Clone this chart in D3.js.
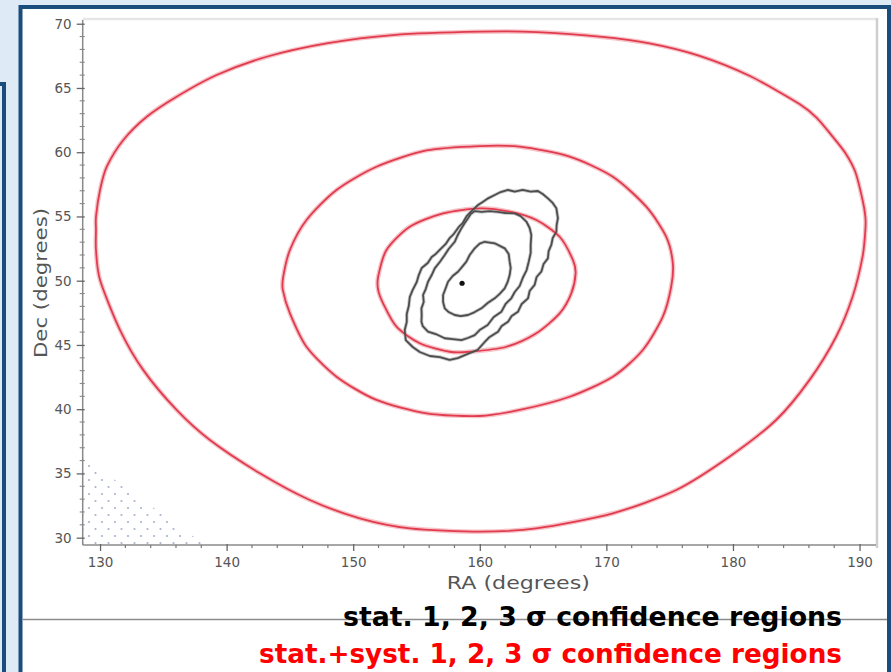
<!DOCTYPE html>
<html>
<head>
<meta charset="utf-8">
<script src="https://cdn.jsdelivr.net/npm/d3@7/dist/d3.min.js"></script>
<style>
  html, body { margin: 0; padding: 0; background: #deebf7; overflow: hidden; }
  svg { display: block; }
</style>
</head>
<body>
<svg id="chart" width="891" height="672"></svg>
<script>
// ---- axis limits and tick labels (degrees) ----
const raLimits  = [128.63, 191.3];
const decLimits = [29.43, 70.29];
const raTicks   = [130, 140, 150, 160, 170, 180, 190];
const decTicks  = [30, 35, 40, 45, 50, 55, 60, 65, 70];
const raMinorStep  = 2;
const decMinorStep = 1;

// ---- best-fit arrival direction [RA, Dec] ----
const bestFit = [158.6, 49.8];

// ---- statistical-only confidence contours [RA, Dec] ----
const stat1Sigma = [
  [160.39,53.03],[161.18,52.91],[161.97,52.52],[162.28,52.08],[162.36,51.48],[162.44,50.99],
  [162.36,50.44],[162.20,49.90],[161.97,49.41],[161.57,48.97],[161.18,48.63],[160.62,48.26],
  [160.13,47.85],[159.60,47.56],[159.07,47.33],[158.49,47.25],[158.02,47.33],[157.54,47.56],
  [157.23,47.85],[157.10,48.34],[157.10,48.89],[157.31,49.43],[157.49,49.92],[157.86,50.37],
  [158.28,50.70],[158.65,51.14],[158.94,51.48],[159.20,52.00],[159.60,52.52],[159.99,52.89]
];
const stat2Sigma = [
  [159.60,55.42],[160.15,55.35],[160.78,55.42],[161.41,55.35],[162.04,55.27],[162.76,55.24],
  [163.23,55.03],[163.70,54.57],[163.94,54.10],[164.07,53.56],[164.02,52.78],[164.02,52.16],
  [163.86,51.46],[163.70,50.83],[163.39,50.21],[163.15,49.59],[162.76,49.12],[162.49,48.63],
  [162.04,48.19],[161.71,47.59],[161.10,47.17],[160.62,46.55],[159.99,46.16],[159.60,45.77],
  [159.05,45.54],[158.55,45.38],[157.86,45.46],[157.23,45.52],[156.52,45.85],[155.91,46.03],
  [155.49,46.47],[155.39,46.81],[155.41,47.33],[155.39,47.85],[155.57,48.34],[155.52,48.89],
  [155.73,49.35],[155.91,49.92],[156.20,50.44],[156.44,50.96],[156.84,51.46],[157.23,52.00],
  [157.54,52.47],[158.02,53.03],[158.26,53.56],[158.55,54.08],[158.81,54.49],[159.07,54.86],
  [159.28,55.19]
];
const stat3Sigma = [
  [159.86,55.89],[160.23,56.12],[160.65,56.41],[161.18,56.67],[161.65,56.90],[162.23,57.06],
  [162.76,56.94],[163.39,57.06],[164.02,56.94],[164.59,56.98],[164.97,56.75],[165.38,56.41],
  [165.76,56.05],[166.05,55.63],[166.17,54.86],[166.07,54.33],[166.05,53.81],[165.76,53.32],
  [165.65,52.78],[165.44,52.31],[165.38,51.74],[165.04,51.30],[164.86,50.70],[164.49,50.29],
  [164.33,49.67],[163.94,49.20],[163.81,48.63],[163.31,48.19],[163.02,47.59],[162.52,47.25],
  [162.23,46.81],[161.73,46.47],[161.44,46.03],[160.78,45.62],[160.39,45.23],[159.83,44.61],
  [159.05,44.30],[158.26,43.98],[157.62,43.83],[156.84,44.06],[156.05,44.14],[155.26,44.45],
  [154.70,44.84],[154.15,45.38],[154.07,46.16],[154.23,46.79],[154.23,47.41],[154.39,48.03],
  [154.47,48.73],[154.70,49.28],[155.02,49.90],[155.18,50.44],[155.41,50.99],[155.89,51.38],
  [156.20,51.84],[156.52,52.08],[156.91,52.47],[157.31,52.86],[157.62,53.32],[157.94,53.63],
  [158.34,54.18],[158.65,54.49],[158.97,55.03],[159.28,55.35]
];

// ---- statistical + systematic confidence contours [RA, Dec] ----
const total1Sigma = [
  [151.97,50.31],[152.63,52.39],[154.47,54.20],[157.10,55.24],[159.99,55.63],[162.36,55.37],
  [164.47,54.72],[166.31,53.42],[167.36,51.61],[167.57,50.58],[167.23,49.02],[166.31,47.46],
  [164.47,45.91],[162.10,44.86],[159.20,44.47],[157.62,44.47],[155.26,45.13],[153.42,46.42],
  [152.36,48.24],[151.97,49.28]
];
const total2Sigma = [
  [144.47,50.31],[145.00,52.39],[146.31,54.72],[148.68,57.06],[151.84,58.87],[155.79,60.14],
  [159.99,60.48],[163.15,60.43],[167.10,59.65],[170.51,58.09],[173.15,55.76],[174.73,53.42],
  [175.25,51.35],[175.12,49.53],[174.46,47.20],[172.88,44.61],[170.51,42.53],[167.10,40.97],
  [163.15,39.94],[159.99,39.47],[155.79,39.68],[151.84,40.72],[148.68,42.53],[146.31,44.86],
  [145.00,47.46],[144.44,49.28]
];
const total3Sigma = [
  [129.68,52.39],[129.68,53.95],[129.68,54.98],[130.00,57.06],[130.53,58.87],[131.84,60.95],
  [133.69,62.76],[136.05,64.32],[139.21,66.01],[143.16,67.43],[147.89,68.47],[153.15,69.12],
  [159.99,69.38],[164.50,69.35],[169.46,68.99],[173.41,68.47],[177.36,67.50],[181.30,65.95],
  [185.26,63.75],[186.67,62.62],[187.88,61.21],[188.88,59.94],[189.67,58.46],[190.24,56.28],
  [190.46,54.98],[190.46,53.95],
  [190.24,51.87],[189.45,48.75],[188.15,45.64],[186.04,42.26],[183.41,39.16],[179.72,36.30],
  [175.52,33.71],[170.51,31.90],[164.47,30.73],[159.99,30.47],[154.47,30.73],[150.52,31.51],
  [146.57,32.93],[142.63,35.01],[138.68,37.60],[136.05,39.94],[133.42,43.04],[131.58,46.16],
  [130.00,50.05]
];

// ---- sky region outside the field of view [RA, Dec] ----
const hiddenRegion = [[128.63, 36.3], [128.63, 29.43], [138.3, 29.43]];

// ---- captions ----
const axisLabels = { x: "RA (degrees)", y: "Dec (degrees)" };
const legendLabels = ["stat. 1, 2, 3 \u03c3 confidence regions",
                      "stat.+syst. 1, 2, 3 \u03c3 confidence regions"];
const legendColors = ["#000000", "#ff0000"];

// ================= drawing =================
const W = 891, H = 672;
const svg = d3.select("#chart");
const plot = { left: 82.7, right: 876, top: 20, bottom: 545 };

const x = d3.scaleLinear().domain(raLimits).range([plot.left, plot.right]);
const y = d3.scaleLinear().domain(decLimits).range([plot.bottom, plot.top]);

// slide background and panel frames
svg.append("rect").attr("width", W).attr("height", H).attr("fill", "#deebf7");
svg.append("rect").attr("x", -20).attr("y", 84).attr("width", 24).attr("height", 700)
  .attr("fill", "#deebf7").attr("stroke", "#1a4c7c").attr("stroke-width", 4);
svg.append("rect").attr("x", 20.5).attr("y", 7).attr("width", 868.5).attr("height", 700)
  .attr("fill", "#ffffff").attr("stroke", "#1a4c7c").attr("stroke-width", 4);

// frame of the figure
svg.append("line").attr("x1", plot.left).attr("x2", plot.right + 1)
  .attr("y1", plot.top - 1).attr("y2", plot.top - 1)
  .attr("stroke", "#e6e6e6").attr("stroke-width", 2.5);
svg.append("line").attr("x1", plot.right + 1).attr("x2", plot.right + 1)
  .attr("y1", plot.top - 2).attr("y2", plot.bottom + 3)
  .attr("stroke", "#cfcfcf").attr("stroke-width", 2.5);

// dotted sky patch
const defs = svg.append("defs");
const pat = defs.append("pattern").attr("id", "dots")
  .attr("patternUnits", "userSpaceOnUse").attr("width", 13).attr("height", 14)
  .attr("x", 86).attr("y", 463);
pat.append("circle").attr("cx", 3).attr("cy", 3).attr("r", 1.1).attr("fill", "#8e98bb");
pat.append("circle").attr("cx", 9.5).attr("cy", 10).attr("r", 1.1).attr("fill", "#8e98bb");
svg.append("path")
  .attr("d", d3.line().x(d => x(d[0])).y(d => y(d[1]))(hiddenRegion) + "Z")
  .attr("fill", "url(#dots)").attr("opacity", 0.75);

// contours
const smooth = d3.line().x(d => x(d[0])).y(d => y(d[1])).curve(d3.curveCardinalClosed.tension(0.2));
const jagged = d3.line().x(d => x(d[0])).y(d => y(d[1])).curve(d3.curveLinearClosed);

const g = svg.append("g").attr("fill", "none").attr("stroke-linejoin", "round");
[total1Sigma, total2Sigma, total3Sigma].forEach(c => {
  g.append("path").attr("d", smooth(c)).attr("stroke", "#f7c2c8").attr("stroke-width", 4.5);
});
[stat1Sigma, stat2Sigma, stat3Sigma].forEach(c => {
  g.append("path").attr("d", jagged(c)).attr("stroke", "#c9c9c9").attr("stroke-width", 3.5);
});
[total1Sigma, total2Sigma, total3Sigma].forEach(c => {
  g.append("path").attr("d", smooth(c)).attr("stroke", "#e03c4e").attr("stroke-width", 1.8);
});
[stat1Sigma, stat2Sigma, stat3Sigma].forEach(c => {
  g.append("path").attr("d", jagged(c)).attr("stroke", "#4d4d4d").attr("stroke-width", 1.8);
});

svg.append("circle").attr("cx", x(bestFit[0])).attr("cy", y(bestFit[1])).attr("r", 2.6)
  .attr("fill", "#111");

// axes
const axisColor = "#8a8a8a";
const tickFont = "'DejaVu Sans', sans-serif";

const xMinor = d3.range(raTicks[0], raLimits[1], raMinorStep).filter(v => !raTicks.includes(v));
const yMinor = d3.range(decTicks[0], decLimits[1], decMinorStep).filter(v => !decTicks.includes(v));

const xAxis = svg.append("g").attr("transform", `translate(0,${plot.bottom})`)
  .call(d3.axisBottom(x).tickValues(raTicks).tickSize(6).tickPadding(6).tickFormat(d3.format("d")));
xAxis.select(".domain").attr("stroke", axisColor).attr("stroke-width", 1.5)
  .attr("d", `M${plot.left},0H${plot.right}`);
xAxis.selectAll(".tick line").attr("stroke", "#666").attr("stroke-width", 1.3).attr("y1", -1);
xAxis.selectAll(".tick text").attr("font-family", tickFont).attr("font-size", 13.5).attr("fill", "#555");

svg.append("g").attr("transform", `translate(0,${plot.bottom})`)
  .selectAll("line").data(xMinor).join("line")
  .attr("x1", d => x(d)).attr("x2", d => x(d)).attr("y1", 0).attr("y2", 3)
  .attr("stroke", "#777").attr("stroke-width", 1.2);

const yAxis = svg.append("g").attr("transform", `translate(${plot.left},0)`)
  .call(d3.axisLeft(y).tickValues(decTicks).tickSize(6).tickPadding(5).tickFormat(d3.format("d")));
yAxis.select(".domain").attr("stroke", axisColor).attr("stroke-width", 1.5)
  .attr("d", `M0,${plot.top}V${plot.bottom}`);
yAxis.selectAll(".tick line").attr("stroke", "#666").attr("stroke-width", 1.3).attr("x1", 2);
yAxis.selectAll(".tick text").attr("font-family", tickFont).attr("font-size", 13.5).attr("fill", "#555");

svg.append("g").attr("transform", `translate(${plot.left},0)`)
  .selectAll("line").data(yMinor).join("line")
  .attr("x1", -3).attr("x2", 2).attr("y1", d => y(d)).attr("y2", d => y(d))
  .attr("stroke", "#888").attr("stroke-width", 1.1);

// axis titles
svg.append("text").attr("x", (plot.left + plot.right) / 2 + 39).attr("y", 589)
  .attr("text-anchor", "middle").attr("font-family", tickFont).attr("font-size", 18)
  .attr("fill", "#555").attr("textLength", 143).attr("lengthAdjust", "spacingAndGlyphs")
  .text(axisLabels.x);
svg.append("text").attr("transform", `translate(47,283) rotate(-90)`)
  .attr("text-anchor", "middle").attr("font-family", tickFont).attr("font-size", 18)
  .attr("fill", "#555").attr("textLength", 150).attr("lengthAdjust", "spacingAndGlyphs")
  .text(axisLabels.y);

// divider line behind the captions
svg.append("line").attr("x1", 22.5).attr("x2", 887).attr("y1", 619.5).attr("y2", 619.5)
  .attr("stroke", "#8c8c8c").attr("stroke-width", 1.5);

// legend captions
const legendFont = "'DejaVu Sans', sans-serif";
const legendY = [626, 663];
const legendWidth = [499, 583];
legendLabels.forEach((t, i) => {
  svg.append("text").attr("x", 842).attr("y", legendY[i]).attr("text-anchor", "end")
    .attr("font-family", legendFont).attr("font-weight", "bold").attr("font-size", 26.5)
    .attr("fill", legendColors[i])
    .attr("textLength", legendWidth[i]).attr("lengthAdjust", "spacingAndGlyphs")
    .text(t);
});
</script>
</body>
</html>
